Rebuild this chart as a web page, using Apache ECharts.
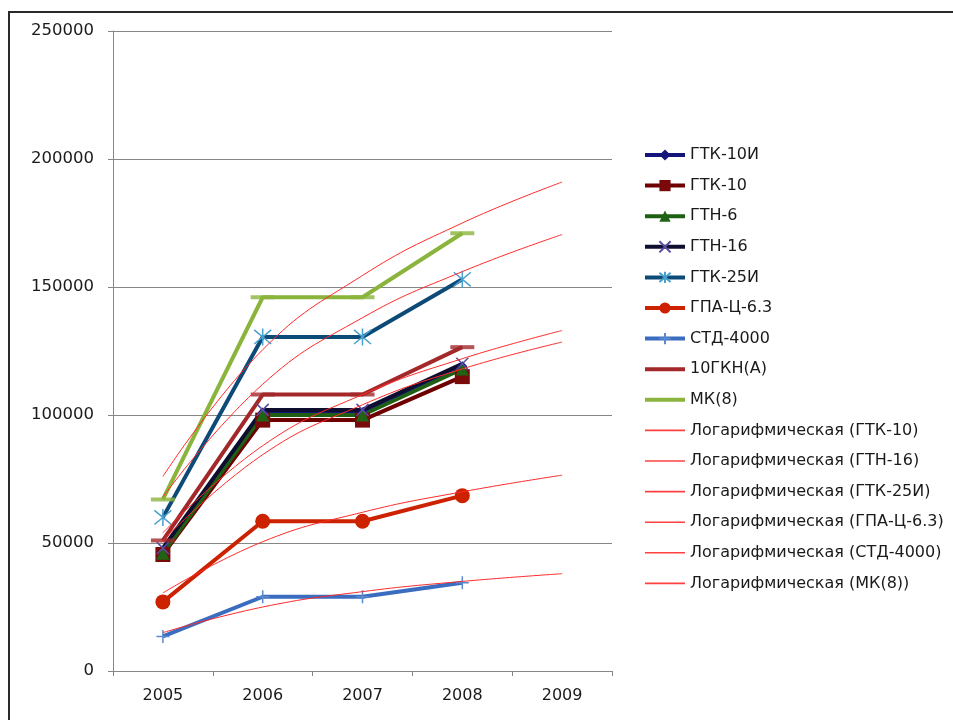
<!DOCTYPE html>
<html>
<head>
<meta charset="utf-8">
<script src="https://cdn.jsdelivr.net/npm/echarts@6/dist/echarts.min.js"></script>
<style>
  html, body { margin: 0; padding: 0; background: #fff; }
  #chart { width: 953px; height: 720px; }
</style>
</head>
<body>
<div id="chart"></div>
<script>
// Years on the category axis
const years = ['2005', '2006', '2007', '2008', '2009'];
const yTicks = [0, 50000, 100000, 150000, 200000, 250000];

// Measured series (2005–2008)
const gtk10i  = [47000, 101000, 101000, 119000];
const gtk10   = [45500, 98000, 98000, 115000];
const gtn6    = [46000, 100000, 100000, 118000];
const gtn16   = [48000, 102000, 102000, 120000];
const gtk25i  = [60000, 130500, 130500, 153000];
const gpa63   = [27000, 58500, 58500, 68500];
const std4000 = [13500, 29000, 29000, 34500];
const gkn10a  = [51000, 108000, 108000, 126500];
const mk8     = [67000, 146000, 146000, 171000];

// Logarithmic trend lines (2005–2009)
const trendGtk10  = [51000, 84500, 104000, 118000, 128500];
const trendGtn16  = [54000, 88000, 108000, 122000, 133000];
const trendGtk25i = [68000, 112000, 138000, 156000, 170500];
const trendGpa63  = [30500, 50500, 62000, 70000, 76500];
const trendStd    = [15000, 25000, 31000, 35000, 38000];
const trendMk8    = [76000, 125500, 154500, 175000, 191000];

const FONT = '"DejaVu Sans", "Liberation Sans", sans-serif';
const chart = echarts.init(document.getElementById('chart'), null, { renderer: 'canvas' });

const X_PATH = 'path://M0,0L10,10M10,0L0,10';
const STAR_PATH = 'path://M0,0L10,10M10,0L0,10M5,-1L5,11';
const PLUS_PATH = 'path://M5,0L5,10M0,5L10,5';
const THICK_BAR = 'path://M0,0H40V4H0Z';
const THIN_BAR = 'path://M0,0H40V1.6H0Z';

function lineSeries(name, data, color, symbol, symbolSize, markerStyle) {
  return {
    name, type: 'line', data,
    symbol, symbolSize,
    showSymbol: symbol !== 'none',
    lineStyle: { color, width: 4 },
    itemStyle: markerStyle || { color },
    emphasis: { disabled: true },
    z: 3
  };
}
function dashMarks(data, color) {
  return {
    name: '', type: 'scatter', data,
    symbol: 'rect', symbolSize: [24, 4],
    itemStyle: { color },
    emphasis: { disabled: true },
    z: 4
  };
}
function trendSeries(name, data) {
  return {
    name, type: 'line', data, smooth: 0.45,
    symbol: 'none',
    lineStyle: { color: '#ff2a2a', width: 1 },
    itemStyle: { color: '#ff4040' },
    emphasis: { disabled: true },
    z: 5
  };
}

const markedNames = ['ГТК-10И', 'ГТК-10', 'ГТН-6', 'ГТН-16', 'ГТК-25И', 'ГПА-Ц-6.3', 'СТД-4000'];
const plainNames = ['10ГКН(А)', 'МК(8)'];
const trendNames = ['Логарифмическая (ГТК-10)', 'Логарифмическая (ГТН-16)', 'Логарифмическая (ГТК-25И)',
  'Логарифмическая (ГПА-Ц-6.3)', 'Логарифмическая (СТД-4000)', 'Логарифмическая (МК(8))'];

const legendData = markedNames.map(n => ({ name: n }))
  .concat(plainNames.map(n => ({ name: n, icon: THICK_BAR })))
  .concat(trendNames.map(n => ({ name: n, icon: THIN_BAR })));

const option = {
  animation: false,
  backgroundColor: '#ffffff',
  grid: { left: 113, top: 31, width: 499, height: 640, containLabel: false },
  xAxis: {
    type: 'category', data: years, boundaryGap: true,
    axisLine: { lineStyle: { color: '#868686', width: 1 } },
    axisTick: { show: true, length: 5, inside: false, lineStyle: { color: '#868686' } },
    axisLabel: { color: '#1a1a1a', fontFamily: FONT, fontSize: 16, margin: 17 },
    splitLine: { show: false }
  },
  yAxis: {
    type: 'value', min: 0, max: 250000, interval: 50000,
    axisLine: { show: true, lineStyle: { color: '#868686', width: 1 } },
    axisTick: { show: true, length: 5, lineStyle: { color: '#868686' } },
    axisLabel: {
      color: '#1a1a1a', fontFamily: FONT, fontSize: 16.5, margin: 19,
      formatter: v => yTicks.includes(v) ? String(v) : ''
    },
    splitLine: { show: true, lineStyle: { color: '#868686', width: 1 } }
  },
  legend: {
    orient: 'vertical', left: 638, top: 142,
    itemWidth: 40, itemHeight: 14, itemGap: 14.6,
    lineStyle: { width: 'inherit' },
    textStyle: { color: '#1a1a1a', fontFamily: FONT, fontSize: 16 },
    data: legendData,
    selectedMode: false
  },
  series: [
    lineSeries('ГТК-10И', gtk10i, '#14147a', 'diamond', 10, { color: '#14147a' }),
    lineSeries('ГТК-10', gtk10, '#6e0000', 'rect', 15, { color: '#7a0a0a' }),
    lineSeries('ГТН-6', gtn6, '#1e5f14', 'triangle', 13, { color: '#1e6414' }),
    lineSeries('ГТН-16', gtn16, '#0e0e30', X_PATH, 12,
      { color: 'rgba(0,0,0,0)', borderColor: '#5a4aa0', borderWidth: 1.5 }),
    lineSeries('ГТК-25И', gtk25i, '#0c4a78', STAR_PATH, 17,
      { color: 'rgba(0,0,0,0)', borderColor: '#4aa0cc', borderWidth: 1.5 }),
    lineSeries('ГПА-Ц-6.3', gpa63, '#cc2200', 'circle', 15, { color: '#cc2200' }),
    lineSeries('СТД-4000', std4000, '#3a6cc0', PLUS_PATH, 13,
      { color: 'rgba(0,0,0,0)', borderColor: '#5a8ad0', borderWidth: 1.5 }),
    lineSeries('10ГКН(А)', gkn10a, '#a3282a', 'none', 0, { color: '#a3282a' }),
    lineSeries('МК(8)', mk8, '#8ab43c', 'none', 0, { color: '#8ab43c' }),
    dashMarks(gkn10a, '#a3282a'),
    dashMarks(mk8, '#8ab43c'),
    trendSeries(trendNames[0], trendGtk10),
    trendSeries(trendNames[1], trendGtn16),
    trendSeries(trendNames[2], trendGtk25i),
    trendSeries(trendNames[3], trendGpa63),
    trendSeries(trendNames[4], trendStd),
    trendSeries(trendNames[5], trendMk8)
  ],
  graphic: [
    { type: 'line', shape: { x1: 8, y1: 12, x2: 953, y2: 12 }, style: { stroke: '#2a2a2a', lineWidth: 2 } },
    { type: 'line', shape: { x1: 9, y1: 12, x2: 9, y2: 720 }, style: { stroke: '#2a2a2a', lineWidth: 2 } }
  ]
};

chart.setOption(option);
</script>
</body>
</html>
